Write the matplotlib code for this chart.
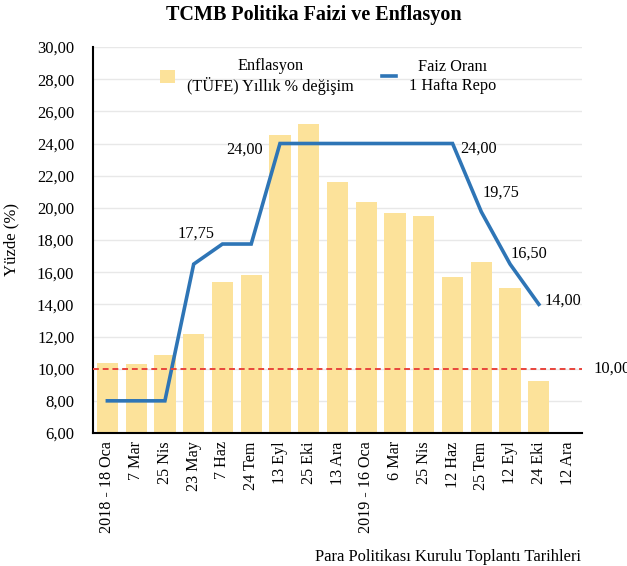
import matplotlib.pyplot as plt
from matplotlib.ticker import FuncFormatter

plt.rcParams['font.family'] = ['Liberation Serif', 'DejaVu Serif']

dates = ['2018 - 18 Oca', '7 Mar', '25 Nis', '23 May', '7 Haz', '24 Tem', '13 Eyl',
         '25 Eki', '13 Ara', '2019 - 16 Oca', '6 Mar', '25 Nis', '12 Haz', '25 Tem',
         '12 Eyl', '24 Eki', '12 Ara']
enflasyon = [10.35, 10.26, 10.85, 12.15, 15.39, 15.85, 24.52, 25.24, 21.62, 20.35,
             19.67, 19.50, 15.72, 16.65, 15.01, 9.26, None]
faiz = [8.0, 8.0, 8.0, 16.5, 17.75, 17.75, 24.0, 24.0, 24.0, 24.0, 24.0, 24.0, 24.0,
        19.75, 16.5, 14.0]
hedef = 10.0

# (index, text, offset px, ha, va)
etiketler = [(4, '17,75', (-8, 2), 'right', 'bottom'),
             (6, '24,00', (-17, -6), 'right', 'center'),
             (12, '24,00', (8, -5), 'left', 'center'),
             (13, '19,75', (1, 19), 'left', 'center'),
             (14, '16,50', (0, 10), 'left', 'center'),
             (15, '14,00', (6, 4), 'left', 'center')]

fig = plt.figure(figsize=(6.27, 5.66), dpi=100)
ax = fig.add_axes([93 / 627, 133 / 566, 489 / 627, 386 / 566])

x = list(range(len(dates)))
bar_x = [i for i in x if enflasyon[i] is not None]
bar_y = [enflasyon[i] for i in bar_x]
bars = ax.bar(bar_x, [v - 6 for v in bar_y], bottom=6, width=0.74, color='#FCE29A',
              label='Enflasyon\n(TÜFE) Yıllık % değişim', zorder=2)
line, = ax.plot(range(len(faiz)), faiz, color='#2E75B6', lw=2.6, solid_joinstyle='miter',
                label='Faiz Oranı\n1 Hafta Repo', zorder=3)
ax.axhline(hedef, color='#E8453C', ls=(0, (3, 2)), lw=1.4, zorder=4)
ax.text(1.023, hedef, '10,00', transform=ax.get_yaxis_transform(), ha='left',
        va='center', fontsize=12, clip_on=False)

for i, t, off, ha, va in etiketler:
    ax.annotate(t, (i, faiz[i]), xytext=off, textcoords='offset pixels', ha=ha, va=va,
                fontsize=11.7)

ax.set_xlim(-0.5, len(dates) - 0.5)
ax.set_ylim(6, 30)
ax.set_yticks(range(6, 31, 2))
ax.yaxis.set_major_formatter(FuncFormatter(lambda v, p: f'{v:.2f}'.replace('.', ',')))
ax.set_xticks(x)
ax.set_xticklabels(dates, rotation=90, fontsize=11.6)
ax.tick_params(axis='y', labelsize=12, length=0, pad=13.5)
ax.tick_params(axis='x', length=0, pad=6)
ax.grid(axis='y', color='#E8E8E8', lw=1, zorder=0)
ax.set_axisbelow(True)
for s in ['top', 'right']:
    ax.spines[s].set_visible(False)
ax.spines['left'].set_linewidth(1.5)
ax.spines['bottom'].set_linewidth(1.5)

ax.set_ylabel('Yüzde (%)', fontsize=12)
ax.yaxis.set_label_coords(-(93 - 19) / 489, 0.5)
fig.text(581 / 627, 1 - 557 / 566, 'Para Politikası Kurulu Toplantı Tarihleri',
         ha='right', va='center', fontsize=11.9)
fig.text(0.5, 1 - 15 / 566, 'TCMB Politika Faizi ve Enflasyon', ha='center',
         va='center', fontsize=14.5, fontweight='bold')

leg = ax.legend([bars, line], [bars.get_label(), line.get_label()],
                loc='upper left', bbox_to_anchor=((160 - 93) / 489, (433 - 58) / 386),
                ncol=2, frameon=False, fontsize=11.7, handlelength=0.92,
                handleheight=0.86, columnspacing=1.7, handletextpad=0.75,
                borderpad=0, borderaxespad=0)
for t in leg.get_texts():
    t.set_multialignment('center')

fig.savefig('out.png')
